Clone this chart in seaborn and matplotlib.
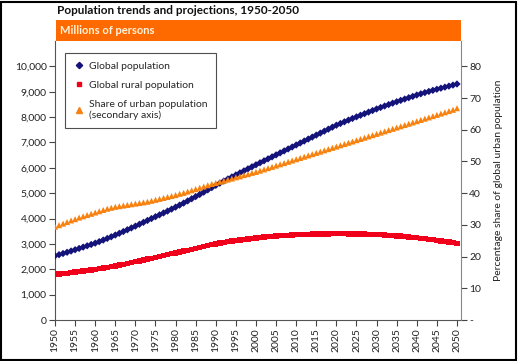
import numpy as np
import pandas as pd
import matplotlib
matplotlib.use('Agg')
import matplotlib.pyplot as plt
import seaborn as sns
from matplotlib.lines import Line2D
from matplotlib.patches import Rectangle
from matplotlib.ticker import FuncFormatter

# Datos (millones de personas / %)
years = list(range(1950, 2051))

global_pop = [
    2530, 2575, 2622, 2670, 2720, 2770, 2822, 2874, 2926, 2978,
    3030, 3090, 3152, 3216, 3282, 3350, 3418, 3488, 3558, 3630,
    3700, 3775, 3850, 3925, 4000, 4073, 4146, 4220, 4295, 4372,
    4450, 4530, 4610, 4695, 4780, 4865, 4950, 5040, 5130, 5220,
    5310, 5395, 5478, 5560, 5640, 5720, 5800, 5880, 5960, 6040,
    6120, 6198, 6276, 6354, 6432, 6510, 6588, 6666, 6744, 6822,
    6900, 6978, 7056, 7134, 7212, 7290, 7368, 7446, 7524, 7602,
    7680, 7748, 7815, 7881, 7946, 8010, 8072, 8134, 8196, 8258,
    8320, 8379, 8437, 8494, 8550, 8605, 8659, 8712, 8764, 8815,
    8870, 8918, 8965, 9011, 9055, 9098, 9140, 9181, 9222, 9262,
    9305,
]

rural_pop = [
    1790, 1808, 1826, 1845, 1865, 1885, 1906, 1928, 1950, 1972,
    1995, 2020, 2046, 2073, 2100, 2130, 2162, 2195, 2228, 2262,
    2296, 2330, 2365, 2400, 2435, 2470, 2505, 2540, 2575, 2610,
    2645, 2680, 2715, 2750, 2786, 2822, 2858, 2894, 2930, 2966,
    3000, 3030, 3058, 3085, 3110, 3134, 3157, 3178, 3198, 3217,
    3235, 3252, 3268, 3283, 3297, 3310, 3322, 3333, 3343, 3352,
    3360, 3367, 3373, 3379, 3384, 3388, 3392, 3395, 3397, 3399,
    3400, 3400, 3399, 3398, 3396, 3393, 3390, 3386, 3381, 3375,
    3368, 3360, 3351, 3341, 3330, 3318, 3305, 3291, 3276, 3260,
    3243, 3225, 3206, 3186, 3165, 3143, 3120, 3096, 3071, 3045,
    3020,
]

urban_share = [
    29.4, 29.9, 30.4, 30.9, 31.4, 31.8, 32.3, 32.7, 33.1, 33.5,
    33.9, 34.3, 34.7, 35.1, 35.4, 35.7, 35.9, 36.1, 36.3, 36.5,
    36.7, 36.9, 37.1, 37.3, 37.6, 37.9, 38.2, 38.5, 38.8, 39.1,
    39.4, 39.8, 40.1, 40.5, 40.9, 41.3, 41.7, 42.1, 42.5, 42.9,
    43.2, 43.6, 43.9, 44.3, 44.6, 45.0, 45.3, 45.7, 46.0, 46.4,
    46.7, 47.1, 47.5, 47.9, 48.3, 48.7, 49.1, 49.5, 49.9, 50.3,
    50.7, 51.1, 51.5, 51.9, 52.3, 52.7, 53.1, 53.5, 53.9, 54.3,
    54.7, 55.1, 55.5, 55.9, 56.3, 56.7, 57.1, 57.5, 57.9, 58.3,
    58.7, 59.1, 59.5, 59.9, 60.3, 60.7, 61.1, 61.5, 61.9, 62.3,
    62.7, 63.1, 63.5, 63.9, 64.3, 64.7, 65.1, 65.5, 65.9, 66.3,
    66.8,
]

x_ticks = list(range(1950, 2051, 5))
left_ticks = list(range(0, 10001, 1000))
right_ticks = [0, 10, 20, 30, 40, 50, 60, 70, 80]

labels = ['Global population', 'Global rural population',
          'Share of urban population\n(secondary axis)']

NAVY = '#14137a'
RED = '#f0001a'
ORANGE = '#f7820f'
HEADER = '#ff6a00'

df = pd.DataFrame({'year': years, 'global': global_pop,
                   'rural': rural_pop, 'urban': urban_share})

sns.set_style('ticks')
plt.rcParams['font.family'] = ['Lato', 'DejaVu Sans']

fig = plt.figure(figsize=(5.18, 3.61), dpi=100)
W, H = 518, 361

ax = fig.add_axes([55 / W, 1 - 320 / H, (461 - 55) / W, (320 - 41) / H])
ax2 = ax.twinx()

sns.scatterplot(data=df, x='year', y='rural', ax=ax, marker='s', s=15,
                color=RED, edgecolor='none', legend=False, zorder=3)
sns.scatterplot(data=df, x='year', y='global', ax=ax, marker='D', s=14,
                color=NAVY, edgecolor='none', legend=False, zorder=4)
sns.scatterplot(data=df, x='year', y='urban', ax=ax2, marker='^', s=19,
                color=ORANGE, edgecolor='none', legend=False, zorder=3)

ax.set_xlim(1950, 2051)
ax.set_ylim(0, 11000)
ax2.set_ylim(0, 88)

ax.set_xticks(x_ticks)
ax.set_xticklabels([str(y) for y in x_ticks], rotation=90, fontsize=7)
ax.set_yticks(left_ticks)
ax.yaxis.set_major_formatter(FuncFormatter(lambda v, p: f'{int(v):,}'))
ax2.set_yticks(right_ticks)
ax2.set_yticklabels(['-'] + [str(t) for t in right_ticks[1:]])

for a in (ax, ax2):
    a.set_xlabel('')
    a.set_ylabel('')
    a.tick_params(labelsize=7.5, length=4, width=0.8, color='#444444',
                  labelcolor='#222222', pad=2)
    a.spines['top'].set_visible(False)
    for s in a.spines.values():
        s.set_color('#555555')
        s.set_linewidth(0.8)
ax.spines['right'].set_visible(False)
ax2.spines['left'].set_visible(False)
ax2.spines['bottom'].set_visible(False)
ax2.spines['right'].set_color('#888888')

ax2.set_ylabel('Percentage share of global urban population', fontsize=7.5,
               color='#222222', labelpad=9)

# Leyenda
handles = [
    Line2D([], [], marker='D', color=NAVY, ls='', markersize=3.2),
    Line2D([], [], marker='s', color=RED, ls='', markersize=3.4),
    Line2D([], [], marker='^', color=ORANGE, ls='', markersize=3.8),
]
leg = ax2.legend(handles, labels, loc='upper left',
                 bbox_to_anchor=(65 / W, 1 - 53 / H),
                 bbox_transform=fig.transFigure, borderaxespad=0,
                 fontsize=7.5, frameon=True, fancybox=False,
                 handletextpad=0.5, handlelength=1.0, borderpad=0.8,
                 labelspacing=0.95)
leg.get_frame().set_edgecolor('#222222')
leg.get_frame().set_linewidth(0.8)

# Cabecera naranja y título
fig.patches.append(Rectangle((56 / W, 1 - 41 / H), (461 - 56) / W, 21 / H,
                             transform=fig.transFigure, facecolor=HEADER,
                             edgecolor='none', zorder=0))
fig.text(60 / W, 1 - 31 / H, 'Millions of persons', color='#fff3dc',
         fontsize=8, va='center', ha='left', fontweight='bold')
fig.text(57 / W, 1 - 10 / H, 'Population trends and projections, 1950-2050',
         color='#111111', fontsize=8.5, va='center', ha='left',
         fontweight='bold')

# Marco negro de la imagen
fig.patches.append(Rectangle((1 / W, 1 / H), 1 - 3 / W, 1 - 3 / H,
                             transform=fig.transFigure, facecolor='none',
                             edgecolor='black', linewidth=1.5))

fig.savefig('out.png', dpi=100)
